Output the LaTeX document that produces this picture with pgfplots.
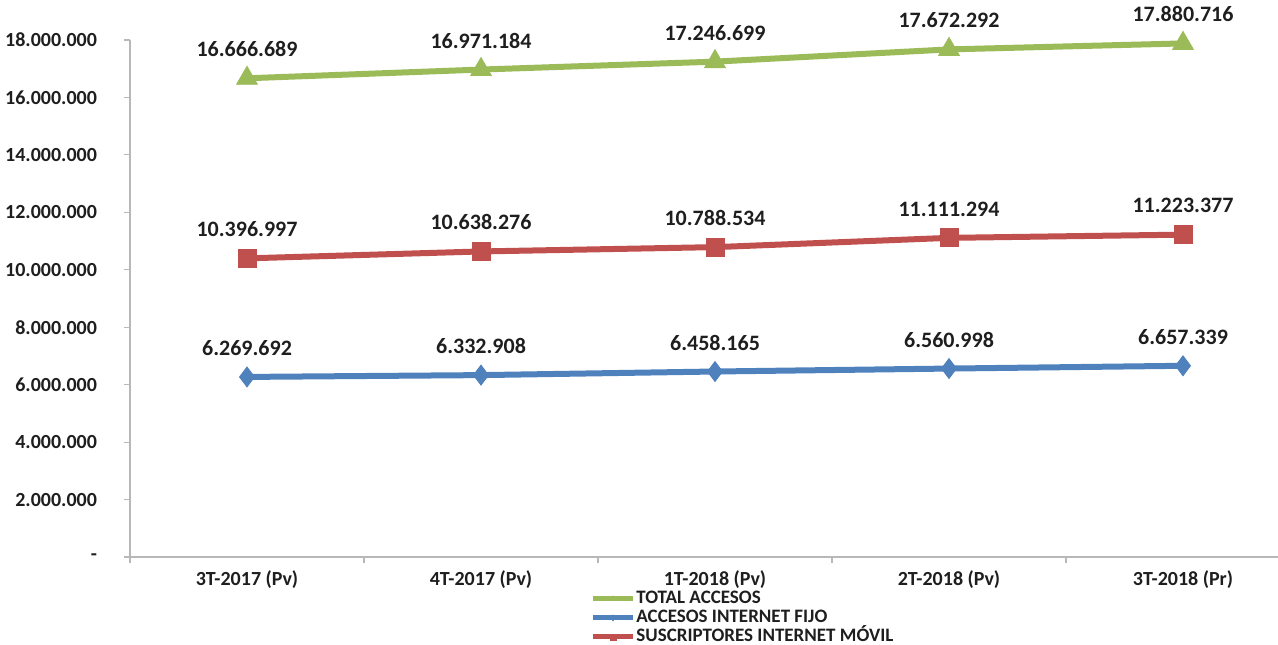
\documentclass[border=0pt]{standalone}
\usepackage{fontspec}
\setmainfont{Carlito}
\usepackage{pgfplots}
\pgfplotsset{compat=1.18}
\definecolor{xlgreen}{RGB}{155,187,89}
\definecolor{xlblue}{RGB}{79,129,189}
\definecolor{xlred}{RGB}{192,80,77}
\definecolor{txt}{RGB}{30,30,30}
\begin{document}
\begin{tikzpicture}
\useasboundingbox (-65pt,-43.5pt) rectangle (574pt,278.5pt);
\begin{axis}[
scale only axis,
width=574pt, height=258.5pt,
xmin=-0.5, xmax=4.406,
ymin=0, ymax=18000000,
clip=false,
axis x line*=bottom, axis y line*=left,
axis line style={draw=black!28, line width=0.6pt},
xtick={0,1,2,3,4},
xticklabels={3T-2017 (Pv),4T-2017 (Pv),1T-2018 (Pv),2T-2018 (Pv),3T-2018 (Pr)},
minor xtick={-0.5,0.5,1.5,2.5,3.5},
major x tick style={draw=none},
minor tick length=3pt,
ytick={0,2000000,...,18000000},
yticklabels={-,2.000.000,4.000.000,6.000.000,8.000.000,10.000.000,12.000.000,14.000.000,16.000.000,18.000.000},
scaled y ticks=false,
tick align=outside,
major tick length=3pt,
tick style={draw=black!28, line width=0.6pt},
tick label style={font=\bfseries\fontsize{10}{12}\selectfont, text=txt},
yticklabel style={xshift=-10pt},
xticklabel style={yshift=-0.5pt},
nodes near coords,
point meta=explicit symbolic,
every node near coord/.style={anchor=center, yshift=14.5pt, font=\bfseries\fontsize{11}{13}\selectfont, text=txt},
legend style={at={(axis description cs:0.4007,0)}, anchor=north west, yshift=-16pt,
  draw=none, fill=none, inner sep=0pt, row sep=0pt,
  font=\bfseries\fontsize{9.5}{10}\selectfont, text=txt,
  nodes={inner sep=0.5pt, text height=6.5pt, text depth=2pt}},
legend cell align=left,
legend image code/.code={
  \draw[#1, mark=none, line width=2.5pt] (0pt,0pt) -- (20pt,0pt);
  \draw[#1, mark size=1.5pt, mark options={line width=0.3pt}] plot coordinates {(10pt,0pt)};
},
]
\addplot[color=xlgreen, line width=3pt, mark=triangle*, mark size=6pt, mark options={solid, line width=0.4pt}] coordinates {
(0,16666689) [16.666.689]
(1,16971184) [16.971.184]
(2,17246699) [17.246.699]
(3,17672292) [17.672.292]
(4,17880716) [17.880.716]
};
\addplot[color=xlblue, line width=3pt, mark=diamond*, mark size=5pt, mark options={solid, line width=0.4pt}] coordinates {
(0,6269692) [6.269.692]
(1,6332908) [6.332.908]
(2,6458165) [6.458.165]
(3,6560998) [6.560.998]
(4,6657339) [6.657.339]
};
\addplot[color=xlred, line width=3pt, mark=square*, mark size=4.5pt, mark options={solid, line width=0.4pt}] coordinates {
(0,10396997) [10.396.997]
(1,10638276) [10.638.276]
(2,10788534) [10.788.534]
(3,11111294) [11.111.294]
(4,11223377) [11.223.377]
};
\legend{TOTAL ACCESOS, ACCESOS INTERNET FIJO, SUSCRIPTORES INTERNET MÓVIL}
\end{axis}
\end{tikzpicture}
\end{document}
